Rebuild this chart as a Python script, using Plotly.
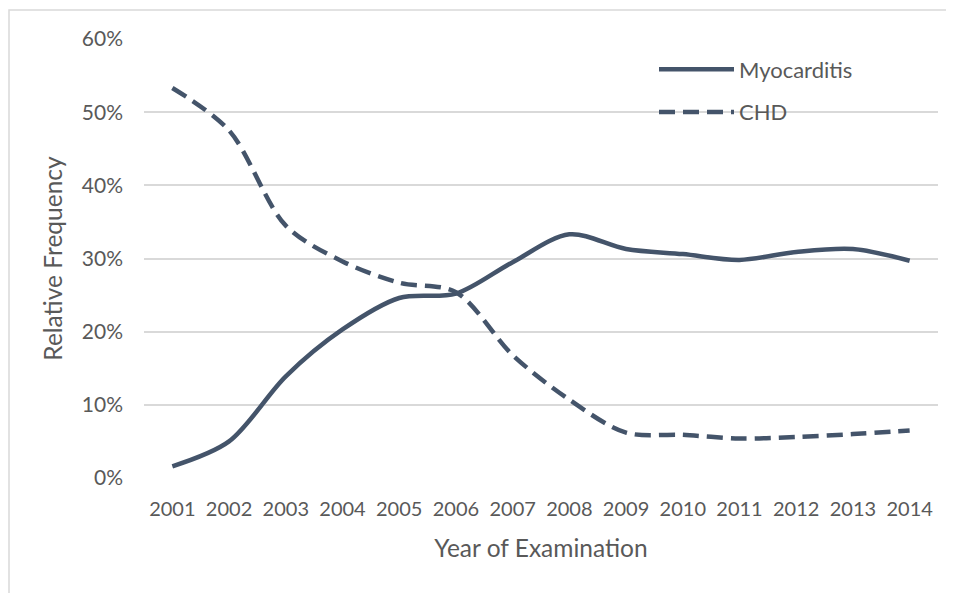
import plotly.graph_objects as go

years = ["2001", "2002", "2003", "2004", "2005", "2006", "2007",
         "2008", "2009", "2010", "2011", "2012", "2013", "2014"]
myocarditis = [0.016, 0.050, 0.139, 0.203, 0.246, 0.252, 0.295,
               0.333, 0.313, 0.306, 0.298, 0.309, 0.313, 0.297]
chd = [0.533, 0.475, 0.345, 0.296, 0.267, 0.254, 0.168,
       0.107, 0.062, 0.059, 0.054, 0.056, 0.060, 0.065]
y_ticks = [0, 0.1, 0.2, 0.3, 0.4, 0.5, 0.6]
y_labels = ["0%", "10%", "20%", "30%", "40%", "50%", "60%"]

color = "#44546A"
font_family = "Lato, Carlito, Calibri, sans-serif"

fig = go.Figure()
fig.add_trace(go.Scatter(
    x=years, y=myocarditis, name="Myocarditis", mode="lines",
    line=dict(color=color, width=4.5, shape="spline", smoothing=0.9),
    legendgroup="a",
))
fig.add_trace(go.Scatter(
    x=years, y=chd, name="CHD", mode="lines",
    line=dict(color=color, width=4.5, shape="spline", smoothing=0.9, dash="16px,8px"),
    legendgroup="b",
))

# page body has an 8px offset; the figure is sized to fill the rest of the window
OFF = 8
W, H = 954 - OFF, 593 - OFF
L, R, T, B = 144 - OFF, 16, 38.5 - OFF, 114.5
pw = W - L - R
ph = H - T - B

fig.update_layout(
    width=W, height=H,
    margin=dict(l=L, r=R, t=T, b=B),
    paper_bgcolor="white", plot_bgcolor="white",
    font=dict(family=font_family, size=20, color="#595959"),
    showlegend=True,
    legend=dict(
        x=(654 - OFF - L) / pw, y=(H - B - (48 - OFF)) / ph, xanchor="left", yanchor="top",
        bgcolor="rgba(0,0,0,0)", itemwidth=75, tracegroupgap=11,
        traceorder="grouped", font=dict(size=22, color="#595959"),
    ),
    xaxis=dict(
        type="category", range=[-0.5, 13.5], showgrid=False, zeroline=False,
        showline=False, ticks="", ticklabelstandoff=17,
        title=dict(text="Year of Examination", standoff=20, font=dict(size=24.5)),
    ),
    yaxis=dict(
        range=[0, 0.6], tickvals=y_ticks, ticktext=y_labels,
        showgrid=True, gridcolor="#D9D9D9", gridwidth=1.5, zeroline=False,
        showline=False, ticks="", ticklabelstandoff=20, tickfont=dict(size=21),
        title=dict(text="Relative Frequency", standoff=12, font=dict(size=24.5)),
    ),
    shapes=[dict(
        type="rect", xref="paper", yref="paper",
        x0=(1 - L) / pw, x1=(W + 10 - L) / pw,
        y0=(H - B - (H + 10)) / ph, y1=(H - B - (9.5 - OFF)) / ph,
        line=dict(color="#D9D9D9", width=1.5), layer="below",
    )],
)

fig.write_html("out.html")
